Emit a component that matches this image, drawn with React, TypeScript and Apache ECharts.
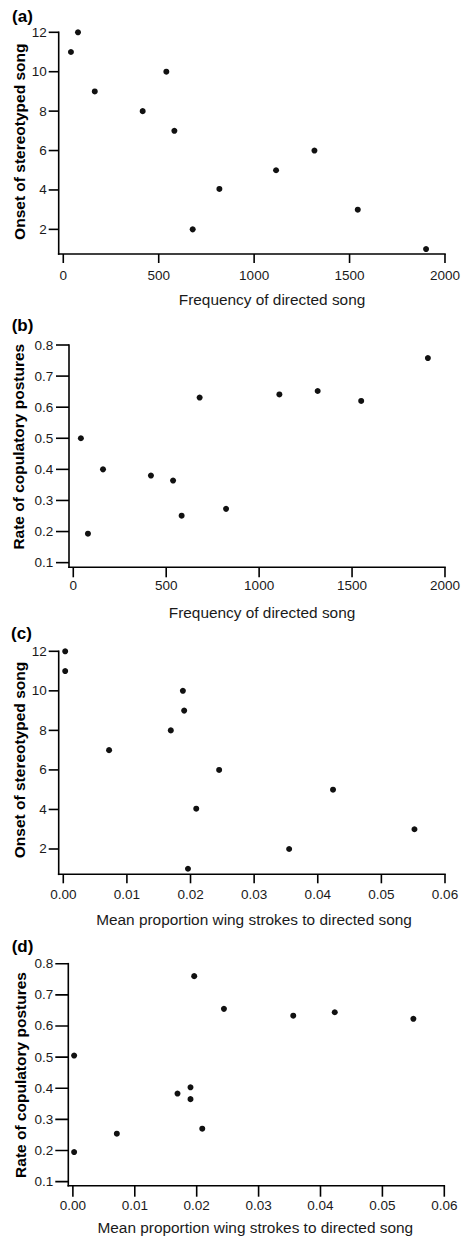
import React, { useEffect, useRef } from "react";
import * as echarts from "echarts";

// Panel (a): frequency of directed song vs onset of stereotyped song
const freqA = [40, 77, 165, 416, 540, 582, 678, 818, 1115, 1316, 1543, 1901];
const onsetA = [11, 12, 9, 8, 10, 7, 2, 4.05, 5, 6, 3, 1];

// Panel (b): frequency of directed song vs rate of copulatory postures
const freqB = [41, 79, 160, 418, 537, 583, 680, 822, 1109, 1315, 1549, 1908];
const rateB = [0.5, 0.193, 0.4, 0.38, 0.364, 0.251, 0.631, 0.273, 0.641, 0.652, 0.62, 0.758];

// Panel (c): mean proportion wing strokes vs onset of stereotyped song
const propC = [0.0003, 0.0003, 0.0072, 0.0169, 0.0188, 0.019, 0.0196, 0.0209, 0.0245, 0.0355, 0.0424, 0.0552];
const onsetC = [12, 11, 7, 8, 10, 9, 1, 4.04, 6, 2, 5, 3];

// Panel (d): mean proportion wing strokes vs rate of copulatory postures
const propD = [0.0002, 0.0002, 0.0071, 0.0169, 0.019, 0.019, 0.0196, 0.0209, 0.0244, 0.0356, 0.0423, 0.055];
const rateD = [0.505, 0.195, 0.254, 0.383, 0.403, 0.365, 0.76, 0.27, 0.655, 0.633, 0.644, 0.623];

// Tick values
const freqTicks = [0, 500, 1000, 1500, 2000];
const propTicks = [0, 0.01, 0.02, 0.03, 0.04, 0.05, 0.06];
const onsetTicks = [2, 4, 6, 8, 10, 12];
const rateTicks = [0.1, 0.2, 0.3, 0.4, 0.5, 0.6, 0.7, 0.8];

const panelLabels = ["(a)", "(b)", "(c)", "(d)"];
const xTitles = [
  "Frequency of directed song",
  "Frequency of directed song",
  "Mean proportion wing strokes to directed song",
  "Mean proportion wing strokes to directed song",
];
const yTitles = [
  "Onset of stereotyped song",
  "Rate of copulatory postures",
  "Onset of stereotyped song",
  "Rate of copulatory postures",
];

const FONT = "Liberation Sans, Arial, sans-serif";
const INK = "#1a1a1a";

export default function App() {
  const ref = useRef<HTMLDivElement>(null);

  useEffect(() => {
    if (!ref.current) return;
    document.body.style.margin = "0";
    const chart = echarts.init(ref.current, undefined, { renderer: "svg" });

    const grids = [
      { left: 58.7, top: 32.3, width: 386.3, height: 221.7 },
      { left: 69, top: 345, width: 376, height: 222.3 },
      { left: 58.7, top: 651.3, width: 386.3, height: 223 },
      { left: 68.3, top: 963.7, width: 376, height: 222 },
    ];

    const xCfg = [
      { min: -24, max: 2000, ticks: freqTicks, fmt: (v: number) => String(v), tick: 9, margin: 14 },
      { min: -23, max: 2000, ticks: freqTicks, fmt: (v: number) => String(v), tick: 10, margin: 11 },
      { min: -0.00072, max: 0.06, ticks: propTicks, fmt: (v: number) => v.toFixed(2), tick: 9, margin: 13.5 },
      { min: -0.00074, max: 0.06, ticks: propTicks, fmt: (v: number) => v.toFixed(2), tick: 11, margin: 13 },
    ];
    const yCfg = [
      { min: 0.75, max: 12, ticks: onsetTicks, fmt: (v: number) => String(v), tick: 10, margin: 12 },
      { min: 0.085, max: 0.8, ticks: rateTicks, fmt: (v: number) => v.toFixed(1), tick: 13, margin: 15.7 },
      { min: 0.72, max: 12, ticks: onsetTicks, fmt: (v: number) => String(v), tick: 10, margin: 12 },
      { min: 0.087, max: 0.8, ticks: rateTicks, fmt: (v: number) => v.toFixed(1), tick: 13, margin: 15 },
    ];

    const seriesData = [
      freqA.map((x, i) => [x, onsetA[i]]),
      freqB.map((x, i) => [x, rateB[i]]),
      propC.map((x, i) => [x, onsetC[i]]),
      propD.map((x, i) => [x, rateD[i]]),
    ];

    const makeAxis = (c: any, i: number) => ({
      type: "value",
      gridIndex: i,
      min: c.min,
      max: c.max,
      axisLine: { show: false, onZero: false },
      axisTick: { show: false },
      axisLabel: {
        color: INK,
        fontSize: 13.5,
        fontFamily: FONT,
        margin: c.margin,
        customValues: c.ticks.slice(),
        formatter: c.fmt,
      },
      splitLine: { show: false },
    });

    const xAxis = xCfg.map((c, i) => makeAxis(c, i));
    const yAxis = yCfg.map((c, i) => makeAxis(c, i));

    const scatterSeries = seriesData.map((d, i) => ({
      type: "scatter",
      xAxisIndex: i,
      yAxisIndex: i,
      data: d,
      symbol: "circle",
      symbolSize: 6,
      itemStyle: { color: "#111", opacity: 1 },
      z: 4,
    }));

    // Axis frame (lines + outward ticks) as thin filled bars, placed through each grid's own scales
    const W = 1.6;
    const H = W / 2;
    const frameSeries = xCfg.map((xc, i) => {
      const yc = yCfg[i];
      return {
        type: "custom",
        xAxisIndex: i,
        yAxisIndex: i,
        clip: false,
        silent: true,
        z: 3,
        data: [[xc.min, yc.min]],
        renderItem: (_params: any, api: any) => {
          const fill = { fill: "#000" };
          const o = api.coord([xc.min, yc.min]);
          const xe = api.coord([xc.max, yc.min]);
          const ye = api.coord([xc.min, yc.max]);
          const children: any[] = [
            { type: "rect", shape: { x: o[0] - H, y: o[1] - H, width: xe[0] - o[0] + W, height: W }, style: fill },
            { type: "rect", shape: { x: o[0] - H, y: ye[1] - H, width: W, height: o[1] - ye[1] + W }, style: fill },
          ];
          xc.ticks.forEach((t: number) => {
            const p = api.coord([t, yc.min]);
            children.push({ type: "rect", shape: { x: p[0] - H, y: p[1], width: W, height: xc.tick }, style: fill });
          });
          yc.ticks.forEach((t: number) => {
            const p = api.coord([xc.min, t]);
            children.push({ type: "rect", shape: { x: p[0] - yc.tick, y: p[1] - H, width: yc.tick, height: W }, style: fill });
          });
          return { type: "group", children };
        },
      };
    });

    const panelPos = [
      [22.5, 16],
      [22.5, 325.3],
      [21.5, 633.3],
      [22.5, 946.3],
    ];
    const xTitlePos = [
      [272, 299.5],
      [262, 612.5],
      [254, 919],
      [255.3, 1227.5],
    ];
    const yTitlePos = [
      [19.5, 141.7],
      [18.5, 446.7],
      [19.3, 760],
      [20, 1075],
    ];

    const graphic: any[] = [];
    panelLabels.forEach((t, i) => {
      graphic.push({
        type: "text",
        x: panelPos[i][0],
        y: panelPos[i][1],
        style: { text: t, fill: "#000", fontSize: 17, fontWeight: "bold", fontFamily: FONT, align: "center", verticalAlign: "middle" },
      });
    });
    xTitles.forEach((t, i) => {
      graphic.push({
        type: "text",
        x: xTitlePos[i][0],
        y: xTitlePos[i][1],
        style: { text: t, fill: INK, fontSize: 15.4, fontFamily: FONT, align: "center", verticalAlign: "middle" },
      });
    });
    yTitles.forEach((t, i) => {
      graphic.push({
        type: "text",
        x: yTitlePos[i][0],
        y: yTitlePos[i][1],
        rotation: Math.PI / 2,
        style: { text: t, fill: "#000", fontSize: 15.5, fontWeight: "bold", fontFamily: FONT, align: "center", verticalAlign: "middle" },
      });
    });

    chart.setOption({
      animation: false,
      grid: grids,
      xAxis,
      yAxis,
      series: [...frameSeries, ...scatterSeries],
      graphic,
    } as any);

    return () => chart.dispose();
  }, []);

  return <div ref={ref} style={{ position: "fixed", left: 0, top: 0, width: 463, height: 1238, background: "#fff" }} />;
}
